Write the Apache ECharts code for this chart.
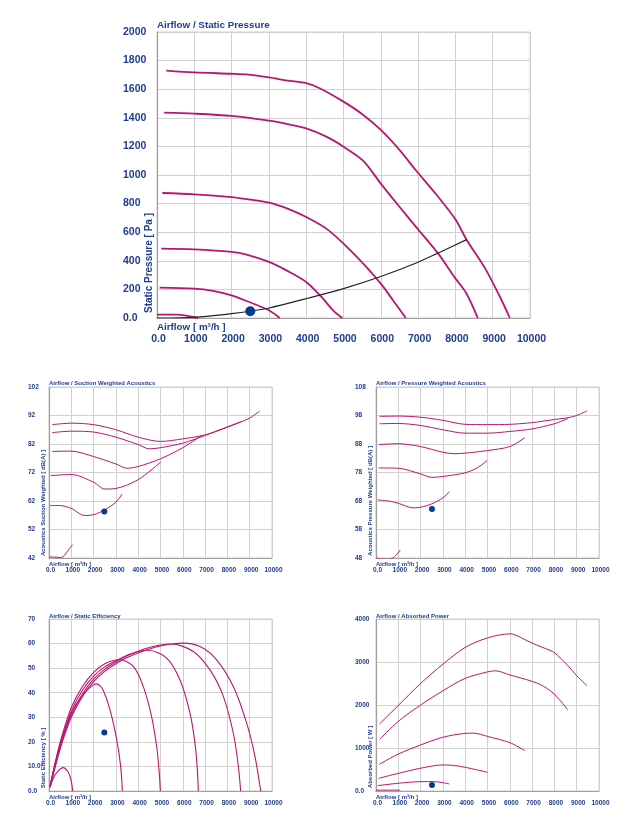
<!DOCTYPE html>
<html>
<head>
<meta charset="utf-8">
<script src="https://cdn.jsdelivr.net/npm/echarts@6/dist/echarts.min.js"></script>
<style>
  html, body { margin: 0; padding: 0; background: #fff; }
  #main { width: 639px; height: 823px; }
</style>
</head>
<body>
<div id="main"></div>
<script>
// ---- data (airflow m3/h, value) ----
const pressureCurves = [
  [[250,1730],[1000,1717],[2000,1708],[2400,1703],[3000,1682],[3500,1660],[4000,1642],[4360,1607],[5000,1513],[5530,1420],[6000,1315],[6500,1176],[6940,1033],[7500,860],[8000,690],[8300,547],[8800,345],[9200,145],[9460,0]],
  [[190,1436],[1000,1429],[2000,1413],[3000,1380],[3500,1356],[4000,1326],[4540,1268],[5000,1198],[5530,1099],[6000,940],[6500,778],[7000,620],[7540,450],[8000,277],[8300,170],[8600,0]],
  [[143,874],[1000,865],[2000,846],[2400,832],[3000,807],[3500,765],[4000,706],[4540,625],[5000,520],[5530,380],[6000,240],[6330,123],[6670,0]],
  [[116,485],[1000,480],[2000,462],[2400,443],[3000,392],[3470,333],[4000,252],[4410,147],[4720,54],[4970,0]],
  [[72,212],[1000,205],[1500,189],[2000,158],[2400,119],[3000,54],[3290,0]],
  [[0,23],[520,23],[880,12],[1100,0]]
];
const systemCurve = [[0,0],[1000,5],[2000,30],[2500,47],[3000,70],[4000,135],[5000,205],[6000,290],[7000,390],[7540,455],[8300,548]];
const pressurePoint = [[2500,47]];

const suctionCurves = [
  [[150,88.8],[1000,89.3],[2000,88.8],[3000,87.0],[4000,84.4],[5000,82.9],[6000,83.8],[7000,85.2],[8000,87.9],[9000,91.1],[9450,93.6]],
  [[150,86.0],[1000,86.5],[2000,86.2],[3000,84.4],[4000,81.8],[4500,80.3],[5000,80.7],[6000,82.3],[7000,85.0],[8000,88.0],[8600,89.8]],
  [[150,79.4],[1000,79.5],[2000,77.6],[3000,75.0],[3500,73.5],[4000,74.1],[5000,76.8],[6000,80.7],[6800,84.8]],
  [[75,70.9],[1000,71.3],[2000,68.6],[2500,66.2],[3000,66.4],[4000,69.5],[5000,75.6]],
  [[45,60.4],[500,60.4],[1000,59.4],[1600,56.9],[2000,57.2],[2500,58.9],[3000,61.6],[3280,64.5]],
  [[0,42.4],[570,42.2],[790,44.0],[1060,46.7]]
];
const suctionPoint = [[2480,58.3]];

const pressureAcCurves = [
  [[160,97.7],[1000,97.8],[2000,97.4],[3000,96.3],[4000,94.9],[5000,94.8],[6000,94.9],[7000,95.5],[8000,96.6],[8600,97.2],[9000,98.0],[9460,99.6]],
  [[160,95.1],[1000,95.2],[2000,94.5],[3000,93.0],[4000,91.8],[5000,91.8],[6000,92.4],[7000,93.3],[8000,95.1],[8600,96.9]],
  [[135,87.8],[1000,88.1],[2000,87.1],[3000,85.1],[3500,84.6],[4000,84.8],[5000,85.7],[6000,87.1],[6670,90.2]],
  [[120,79.6],[1000,79.5],[2000,77.5],[2500,76.3],[3000,76.6],[4000,77.9],[4530,79.6],[4980,82.2]],
  [[75,68.4],[640,67.9],[1000,67.2],[1660,65.6],[2000,65.8],[2500,67.0],[3000,69.1],[3290,71.3]],
  [[0,48.0],[490,47.6],[790,48.2],[1090,50.8]]
];
const pressureAcPoint = [[2510,65.2]];

const efficiencyCurves = [
  [[45,1.5],[270,6.5],[640,9.5],[870,7.5],[1000,4],[1060,0]],
  [[50,2],[300,12],[600,21.5],[1000,31.5],[1500,39],[2000,43.3],[2137,43.6],[2400,41.5],[2735,33],[3034,21],[3214,10],[3290,0]],
  [[50,2],[300,12.5],[600,23],[1000,34],[1500,42.5],[2000,48.3],[2500,51.8],[3000,53.3],[3200,53.4],[3782,50.7],[4230,42.5],[4600,30.3],[4830,18],[4940,8],[4993,0]],
  [[50,2],[300,12],[600,22],[1000,32.5],[1500,41],[2000,46.8],[2500,50.5],[3000,53],[3500,55.2],[4000,56.8],[4450,57.3],[5277,54.1],[5874,45.2],[6323,31.7],[6547,19.4],[6650,9],[6697,0]],
  [[50,1.8],[300,11],[600,21],[1000,31],[1500,39.5],[2000,45.5],[2500,49.5],[3000,52.5],[3500,55],[4000,56.9],[4500,58.4],[5000,59.4],[5500,59.8],[6472,56.8],[7220,49.3],[7818,38.5],[8266,23.5],[8480,11],[8595,0]],
  [[50,1.5],[300,10.5],[600,20],[1000,30],[1500,38.5],[2000,44.5],[2500,48.7],[3000,51.8],[3500,54.3],[4000,56.2],[4500,57.8],[5000,59],[5500,59.8],[6000,60.2],[6771,58.8],[7519,53.4],[8266,42.5],[8864,27.6],[9238,14],[9492,0]]
];
const efficiencyPoint = [[2480,23.8]];

const powerCurves = [
  [[160,1560],[1000,1990],[2000,2500],[3000,2950],[4000,3340],[5000,3560],[6000,3655],[6200,3640],[7000,3440],[7800,3270],[8000,3220],[8600,2920],[9000,2680],[9460,2450]],
  [[160,1200],[1000,1620],[2000,2000],[3000,2330],[4000,2620],[5000,2770],[5350,2796],[6000,2700],[7000,2550],[7500,2440],[8000,2250],[8600,1890]],
  [[150,620],[1000,860],[2000,1070],[3000,1250],[4000,1340],[4380,1345],[5000,1270],[6000,1125],[6670,940]],
  [[120,295],[1000,410],[2000,530],[3000,606],[3480,595],[4000,551],[5000,435]],
  [[75,124],[1000,180],[2000,217],[2590,218],[3000,194],[3290,165]],
  [[0,20],[1090,20]]
];
const powerPoint = [[2510,140]];

// ---- tick labels ----
const airflowTicks = ['0.0','1000','2000','3000','4000','5000','6000','7000','8000','9000','10000'];
const pressureTicks = ['0.0','200','400','600','800','1000','1200','1400','1600','1800','2000'];
const suctionTicks = ['42','52','62','72','82','92','102'];
const pressureAcTicks = ['48','58','68','78','88','98','108'];
const efficiencyTicks = ['0.0','10.0','20','30','40','50','60','70'];
const powerTicks = ['0.0','1000','2000','3000','4000'];

const TEXT = '#1f3d8f';
const CURVE = '#b8176f';
const DOT = '#0a3a8c';
const FONT = '"Liberation Sans", Arial, sans-serif';

const grids = [
  { left: 157, top: 32, width: 373, height: 286 },
  { left: 49, top: 387, width: 223, height: 171 },
  { left: 376, top: 387, width: 223, height: 171 },
  { left: 49, top: 619, width: 223, height: 172 },
  { left: 376, top: 619, width: 223, height: 172 }
];

function xAx(i, size, margin) {
  return {
    type: 'value', gridIndex: i, min: 0, max: 10000, interval: 1000,
    axisLine: { show: true, lineStyle: { color: '#a0a0a0', width: 1.2 } },
    axisTick: { show: false },
    splitLine: { show: true, lineStyle: { color: '#d0d0d0', width: 1 } },
    axisLabel: {
      color: TEXT, fontFamily: FONT, fontWeight: 'bold', fontSize: size, margin: margin,
      padding: [0, 0, 0, 3],
      formatter: v => airflowTicks[Math.round(v / 1000)]
    }
  };
}
function yAx(i, min, max, step, ticks, size, margin) {
  return {
    type: 'value', gridIndex: i, min: min, max: max, interval: step,
    axisLine: { show: true, lineStyle: { color: '#a0a0a0', width: 1.2 } },
    axisTick: { show: false },
    splitLine: { show: true, lineStyle: { color: '#d0d0d0', width: 1 } },
    axisLabel: {
      color: TEXT, fontFamily: FONT, fontWeight: 'bold', fontSize: size, margin: margin, align: 'left',
      formatter: v => ticks[Math.round((v - min) / step)]
    }
  };
}

const series = [];
function addCurves(list, gi, width) {
  list.forEach(d => series.push({
    type: 'line', xAxisIndex: gi, yAxisIndex: gi, data: d, smooth: 0.3,
    symbol: 'none', silent: true, lineStyle: { color: CURVE, width: width }, z: 3
  }));
}
function addPoint(d, gi, size) {
  series.push({
    type: 'scatter', xAxisIndex: gi, yAxisIndex: gi, data: d, symbolSize: size,
    itemStyle: { color: DOT, opacity: 1 }, silent: true, z: 5
  });
}

addCurves(pressureCurves, 0, 1.8);
series.push({
  type: 'line', xAxisIndex: 0, yAxisIndex: 0, data: systemCurve, smooth: 0.3,
  symbol: 'none', silent: true, lineStyle: { color: '#222', width: 1.2 }, z: 4
});
addPoint(pressurePoint, 0, 10);
addCurves(suctionCurves, 1, 1);
addPoint(suctionPoint, 1, 6);
addCurves(pressureAcCurves, 2, 1);
addPoint(pressureAcPoint, 2, 6);
addCurves(efficiencyCurves, 3, 1.1);
addPoint(efficiencyPoint, 3, 6);
addCurves(powerCurves, 4, 1);
addPoint(powerPoint, 4, 6);

// texts: [text, x, y, size, rotated]
const texts = [
  ['Airflow / Static Pressure', 157, 25, 9.8, false],
  ['Airflow [ m³/h ]', 157, 327, 9.8, false],
  ['Static Pressure [ Pa ]', 149, 263, 10, true],
  ['Airflow / Suction Weighted Acoustics', 49, 383, 6, false],
  ['Airflow [ m³/h ]', 49, 564, 6, false],
  ['Acoustics Suction Weighted [ dB(A) ]', 43.5, 503, 6, true],
  ['Airflow / Pressure Weighted Acoustics', 376, 383, 6, false],
  ['Airflow [ m³/h ]', 376, 564, 6, false],
  ['Acoustics Pressure Weighted [ dB(A) ]', 370.5, 501, 6, true],
  ['Airflow / Static Efficiency', 49, 616, 6, false],
  ['Airflow [ m³/h ]', 49, 797, 6, false],
  ['Static Efficiency [ % ]', 43.5, 758, 6, true],
  ['Airflow / Absorbed Power', 376, 616, 6, false],
  ['Airflow [ m³/h ]', 376, 797, 6, false],
  ['Absorbed Power [ W ]', 370.5, 757, 6, true]
];

const graphic = texts.map(t => ({
  type: 'text', x: t[1], y: t[2], rotation: t[4] ? Math.PI / 2 : 0, silent: true, z: 10,
  style: {
    text: t[0], fill: TEXT, font: 'bold ' + t[3] + 'px ' + FONT,
    align: t[4] ? 'center' : 'left', textAlign: t[4] ? 'center' : 'left',
    verticalAlign: 'middle', textVerticalAlign: 'middle'
  }
}));

const chart = echarts.init(document.getElementById('main'), null, { renderer: 'canvas' });
chart.setOption({
  backgroundColor: '#fff',
  animation: false,
  grid: grids.map(g => Object.assign({ show: true, borderColor: '#d0d0d0', borderWidth: 1, backgroundColor: 'transparent' }, g)),
  xAxis: [
    xAx(0, 10.5, 16),
    xAx(1, 6.5, 9),
    xAx(2, 6.5, 9),
    xAx(3, 6.5, 9),
    xAx(4, 6.5, 9)
  ],
  yAxis: [
    yAx(0, 0, 2000, 200, pressureTicks, 10.5, 34),
    yAx(1, 42, 102, 10, suctionTicks, 6.5, 21),
    yAx(2, 48, 108, 10, pressureAcTicks, 6.5, 21),
    yAx(3, 0, 70, 10, efficiencyTicks, 6.5, 21),
    yAx(4, 0, 4000, 1000, powerTicks, 6.5, 21)
  ],
  graphic: graphic,
  series: series
});
</script>
</body>
</html>
